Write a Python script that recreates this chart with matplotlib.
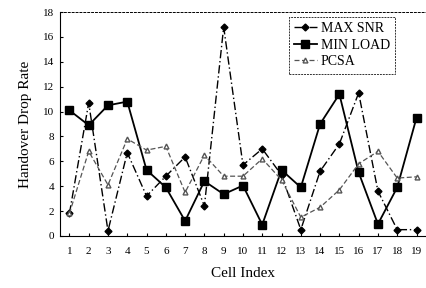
import matplotlib.pyplot as plt

cells = list(range(1, 20))
max_snr = [1.8, 10.7, 0.4, 6.7, 3.2, 4.8, 6.35, 2.4, 16.8, 5.7, 7.0, 4.9, 0.5, 5.2, 7.4, 11.5, 3.6, 0.5, 0.5]
min_load = [10.1, 8.9, 10.5, 10.8, 5.3, 3.9, 1.2, 4.4, 3.35, 4.05, 0.9, 5.3, 3.9, 9.0, 11.4, 5.1, 0.95, 3.9, 9.5]
pcsa = [1.8, 6.8, 4.1, 7.8, 6.9, 7.2, 3.5, 6.5, 4.8, 4.8, 6.2, 4.5, 1.5, 2.3, 3.7, 5.8, 6.8, 4.65, 4.75]

plt.rcParams['font.family'] = ['Liberation Serif', 'DejaVu Serif']

fig = plt.figure(figsize=(4.27, 2.88), dpi=100)
ax = fig.add_axes([0.14, 0.181, 0.858, 0.777])

ax.plot(cells, max_snr, color='black', linestyle=(0, (6, 2, 1, 2)), linewidth=1.0,
        marker='D', markersize=3.5, label='MAX SNR')
ax.plot(cells, min_load, color='black', linestyle='-', linewidth=1.3,
        marker='s', markersize=6, label='MIN LOAD')
ax.plot(cells, pcsa, color='#555555', linestyle=(0, (4, 2)), linewidth=0.9,
        marker='^', markersize=3.5, markerfacecolor='white', label='PCSA')

ax.set_xlim(0.5, 19.5)
ax.set_ylim(0, 18)
ax.set_xticks(cells)
ax.set_yticks(range(0, 19, 2))
ax.tick_params(direction='in', length=2, labelsize=8, pad=8)
ax.tick_params(axis='y', pad=4)

for side in ['top', 'right']:
    ax.spines[side].set_linestyle((0, (2, 2)))
    ax.spines[side].set_linewidth(0.7)

ax.set_xlabel('Cell Index', fontsize=11, labelpad=8)
ax.set_ylabel('Handover Drop Rate', fontsize=11, labelpad=8)

leg = ax.legend(loc='upper right', bbox_to_anchor=(0.935, 1.01), fontsize=10,
                frameon=True, fancybox=False, edgecolor='black', handlelength=1.6,
                borderpad=0.4, labelspacing=0.25, handletextpad=0.3)
leg.get_frame().set_linestyle((0, (2, 1)))
leg.get_frame().set_linewidth(0.7)

fig.savefig('out.png', dpi=100)
